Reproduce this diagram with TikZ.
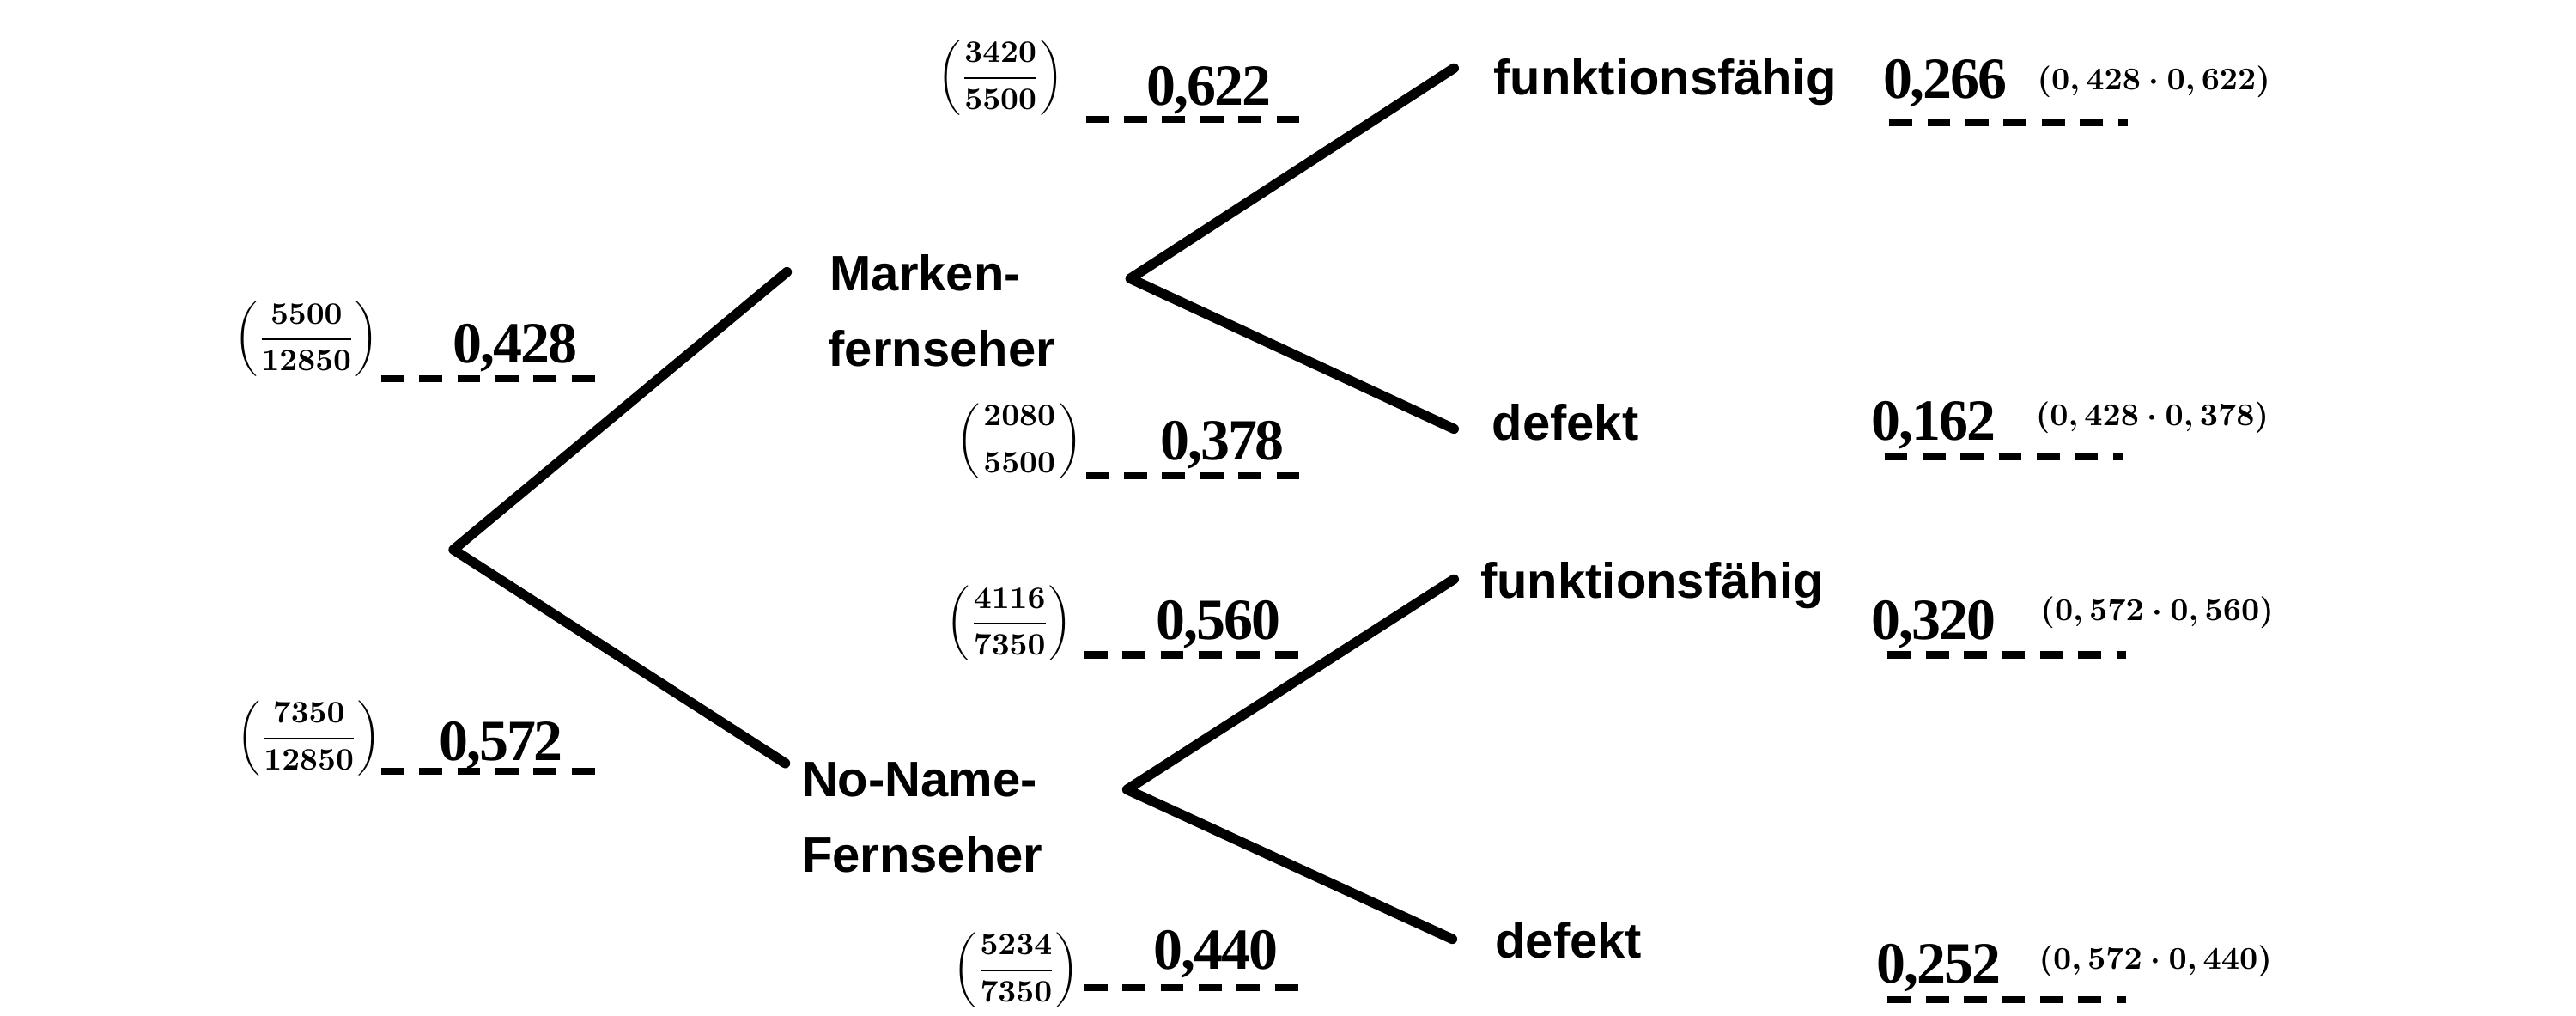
\documentclass[tikz,border=0pt]{standalone}
\usepackage[no-math]{fontspec}
\usepackage{amsmath}
\newfontfamily\lblfont{Liberation Sans}
\newfontfamily\numfont{Liberation Serif}[LetterSpace=-3]
\tikzset{
  branch/.style={line width=6pt,line cap=round,line join=round,black},
  dashline/.style={line width=4.4pt,dash pattern=on 14pt off 9.2pt,black},
  lbl/.style={anchor=base west,inner sep=0pt,font=\lblfont\bfseries\fontsize{30.3}{30.3}\selectfont},
  num/.style={anchor=base,inner sep=0pt,font=\numfont\bfseries\fontsize{35.5}{35.5}\selectfont},
  frc/.style={inner sep=0pt,scale=1.9,font=\boldmath},
  prod/.style={inner sep=0pt,scale=1.93,font=\boldmath},
}
\newcommand{\frcx}[2]{$\left(\dfrac{#1}{#2}\right)$}
\newcommand{\prodx}[1]{$(#1)$}
\begin{document}
\begin{tikzpicture}[x=1pt,y=-1pt]
\useasboundingbox (0,0) rectangle (1568,618.3);
% branch points
\coordinate (r) at (276,334.5);
\coordinate (m) at (688,169.5);
\coordinate (n) at (686,480.5);
\coordinate (mend) at (479,165.5);
\coordinate (nend) at (478,464.5);
\coordinate (mf) at (885,41.5);
\coordinate (md) at (885,261);
\coordinate (nf) at (885,352.5);
\coordinate (nd) at (884,571.5);
\draw[branch] (mend) -- (r) -- (nend);
\draw[branch] (mf) -- (m) -- (md);
\draw[branch] (nf) -- (n) -- (nd);
% labels
\node[lbl] (l1) at (505,177) {Marken-};
\node[lbl] (l2) at (504,223) {fernseher};
\node[lbl] (l3) at (488,485) {No-Name-};
\node[lbl] (l4) at (488,531) {Fernseher};
\node[lbl] (l5) at (909,58) {funktionsfähig};
\node[lbl] (l6) at (908,268) {defekt};
\node[lbl] (l7) at (901,364) {funktionsfähig};
\node[lbl] (l8) at (910,583) {defekt};
% numbers
\node[num] (a1) at (313.5,221) {0,428};
\node[num] (a2) at (305,463) {0,572};
\node[num] (b1) at (736,64) {0,622};
\node[num] (b2) at (744,280) {0,378};
\node[num] (b3) at (741.5,389) {0,560};
\node[num] (b4) at (740,590) {0,440};
\node[num] (c1) at (1184,60) {0,266};
\node[num] (c2) at (1177,268) {0,162};
\node[num] (c3) at (1177,389) {0,320};
\node[num] (c4) at (1180,598) {0,252};
% fractions
\node[frc] (f1) at (186.5,206.5) {\frcx{5500}{12850}};
\node[frc] (f2) at (188,449.5) {\frcx{7350}{12850}};
\node[frc] (f3) at (609,47.5) {\frcx{3420}{5500}};
\node[frc] (f4) at (620.5,268.5) {\frcx{2080}{5500}};
\node[frc] (f5) at (614.5,379.5) {\frcx{4116}{7350}};
\node[frc] (f6) at (618.5,590.5) {\frcx{5234}{7350}};
% products
\node[prod] (p1) at (1311,50) {\prodx{0,428\cdot 0,622}};
\node[prod] (p2) at (1310,254) {\prodx{0,428\cdot 0,378}};
\node[prod] (p3) at (1313,373) {\prodx{0,572\cdot 0,560}};
\node[prod] (p4) at (1312,585) {\prodx{0,572\cdot 0,440}};
% dashed answer lines
\coordinate (d1a) at (232,230.5); \coordinate (d1b) at (362,230.5);
\coordinate (d2a) at (232,469.5); \coordinate (d2b) at (362,469.5);
\coordinate (d3a) at (661,72.5);  \coordinate (d3b) at (791,72.5);
\coordinate (d4a) at (661,289.5); \coordinate (d4b) at (791,289.5);
\coordinate (d5a) at (660,398.5); \coordinate (d5b) at (790,398.5);
\coordinate (d6a) at (660,601); \coordinate (d6b) at (790,601);
\coordinate (d7a) at (1150,74.5); \coordinate (d7b) at (1295,74.5);
\coordinate (d8a) at (1147,278); \coordinate (d8b) at (1292,278);
\coordinate (d9a) at (1149,398.5); \coordinate (d9b) at (1294,398.5);
\coordinate (d0a) at (1149,608.5); \coordinate (d0b) at (1294,608.5);
\foreach \k in {0,...,9} \draw[dashline] (d\k a) -- (d\k b);
\end{tikzpicture}
\end{document}
